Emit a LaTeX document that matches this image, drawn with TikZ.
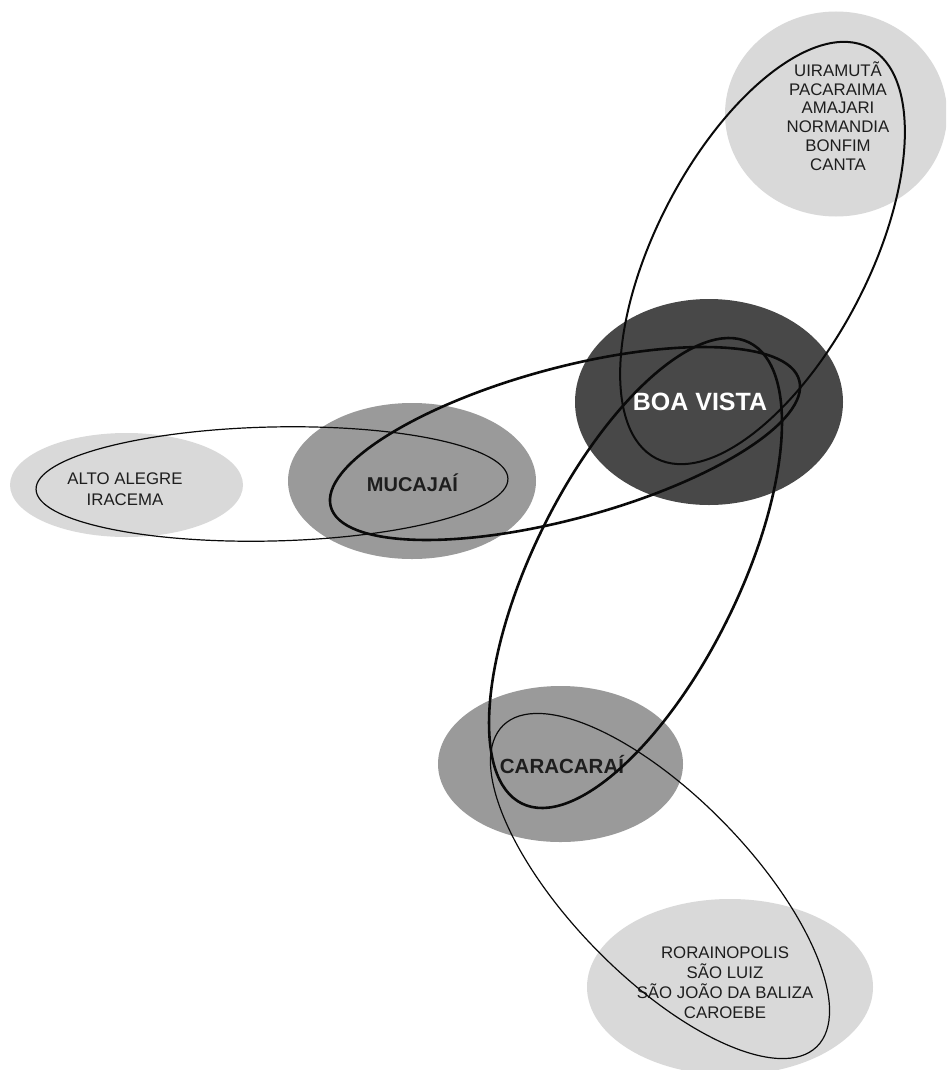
\documentclass[tikz,border=0pt]{standalone}
\usepackage{fontspec}
\setmainfont{Liberation Sans}
\usetikzlibrary{shapes.geometric}
\definecolor{lightgr}{HTML}{D9D9D9}
\definecolor{midgr}{HTML}{9A9A9A}
\definecolor{darkgr}{HTML}{484848}
\definecolor{txtc}{HTML}{1E1E1E}
\definecolor{linec}{HTML}{0A0A0A}
\begin{document}
\begin{tikzpicture}[x=1pt,y=-1pt,
  blob/.style={ellipse, inner sep=0pt, draw=none},
  lbl/.style={align=center, text=txtc, inner sep=0pt, font=\fontsize{16.8}{18.8}\selectfont},
  lblb/.style={align=center, text=txtc, inner sep=0pt, font=\bfseries\fontsize{20.3}{24}\selectfont},
  thickline/.style={draw=linec, line width=2.6pt},
  medline/.style={draw=linec, line width=2.0pt},
  thinline/.style={draw=linec, line width=1.2pt}]
\useasboundingbox (0,0) rectangle (946,1070);
\fill[white] (0,0) rectangle (946,1070);
\clip (0,0) rectangle (946,1070);
% filled regions
\node[blob, fill=lightgr, minimum width=222pt, minimum height=205pt] (ftr) at (836,114) {};
\node[blob, fill=darkgr, minimum width=268pt, minimum height=206pt] (fbv) at (709,402) {};
\node[blob, fill=midgr, minimum width=248pt, minimum height=156pt] (fmu) at (412,481) {};
\node[blob, fill=lightgr, minimum width=233pt, minimum height=104pt] (faa) at (126.5,485) {};
\node[blob, fill=midgr, minimum width=245pt, minimum height=156pt] (fca) at (560.5,764) {};
\node[blob, fill=lightgr, minimum width=286pt, minimum height=176pt] (fro) at (730,987) {};
% labels
\node[lbl] (ttr) at (838,116) {UIRAMUTÃ\\PACARAIMA\\AMAJARI\\NORMANDIA\\BONFIM\\CANTA};
\node[lblb, text=white, font=\bfseries\fontsize{25}{28}\selectfont] (tbv) at (700,402) {BOA VISTA};
\node[lblb, font=\bfseries\fontsize{20}{24}\selectfont] (tmu) at (412.5,483) {MUCAJAÍ};
\node[lbl, font=\fontsize{16.8}{21}\selectfont] (taa) at (125,489) {ALTO ALEGRE\\IRACEMA};
\node[lblb, font=\bfseries\fontsize{20.5}{24}\selectfont] (tca) at (562,764.5) {CARACARAÍ};
\node[lbl, font=\fontsize{16.8}{20}\selectfont] (tro) at (725,983) {RORAINOPOLIS\\SÃO LUIZ\\SÃO JOÃO DA BALIZA\\CAROEBE};
% outline loops
\draw[medline, rotate around={62.6:(762.5,253)}] (762.5,253) ellipse [x radius=231.3pt, y radius=106.5pt];
\draw[thickline, rotate around={15.1:(565,443.5)}] (565,443.5) ellipse [x radius=242.6pt, y radius=75.5pt];
\draw[thinline, rotate around={1.3:(272,484)}] (272,484) ellipse [x radius=236pt, y radius=57pt];
\draw[thickline, rotate around={63.75:(635.5,573)}] (635.5,573) ellipse [x radius=257pt, y radius=103pt];
\draw[thinline, rotate around={-45.7:(660,886)}] (660,886) ellipse [x radius=224.5pt, y radius=90pt];
\end{tikzpicture}
\end{document}
